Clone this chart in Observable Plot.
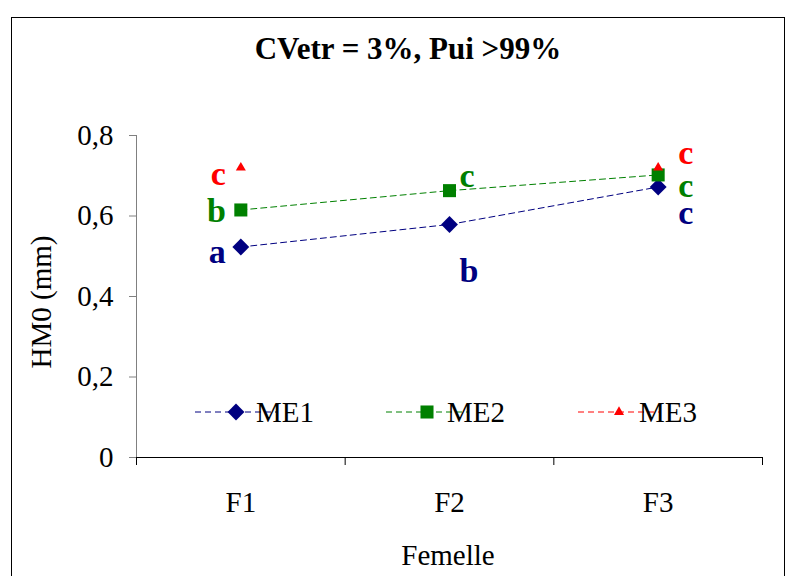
<!DOCTYPE html>
<html><head><meta charset="utf-8">
<script src="https://cdn.jsdelivr.net/npm/d3@7"></script>
<script src="https://cdn.jsdelivr.net/npm/@observablehq/plot@0.6"></script>
<style>
body{margin:0;background:#fff;}
#wrap{position:relative;width:791px;height:576px;overflow:hidden;font-family:"Liberation Serif","Tinos","Times New Roman","DejaVu Serif",serif;color:#000;}
#frame{position:absolute;left:11px;top:17px;width:774px;height:620px;border:1.5px solid #000;box-sizing:border-box;}
#title{position:absolute;left:0;width:816px;top:34px;text-align:center;font-weight:bold;font-size:31px;line-height:30px;white-space:nowrap;}
#xlab{position:absolute;left:248px;width:400px;top:540px;text-align:center;font-size:29px;line-height:30px;}
#ylab{position:absolute;left:-59px;width:200px;top:287px;height:30px;text-align:center;font-size:29px;line-height:30px;transform:rotate(-90deg);white-space:nowrap;}
#chart{position:absolute;left:0;top:0;}
#chart svg text{font-family:"Liberation Serif","Tinos","Times New Roman","DejaVu Serif",serif;}
</style></head>
<body>
<div id="wrap">
  <div id="frame"></div>
  <div id="chart"></div>
  <div id="title">CVetr = 3%, Pui &gt;99%</div>
  <div id="xlab">Femelle</div>
  <div id="ylab">HM0 (mm)</div>
</div>
<script>
const categories = ["F1", "F2", "F3"];
const seriesNames = ["ME1", "ME2", "ME3"];
const seriesColors = ["#000080", "#008000", "#FF0000"];
const me1 = [0.523, 0.579, 0.672];
const me2 = [0.615, 0.663, 0.702];
const me3 = [0.720, null, 0.720];
const yTicks = [0, 0.2, 0.4, 0.6, 0.8];
const letterCats = ["F1", "F1", "F1", "F2", "F2", "F3", "F3", "F3"];
const letterSeries = ["ME3", "ME2", "ME1", "ME2", "ME1", "ME3", "ME2", "ME1"];
const letterTexts = ["c", "b", "a", "c", "b", "c", "c", "c"];
const letterY = [0.676, 0.584, 0.482, 0.673, 0.435, 0.730, 0.646, 0.581];

const seriesValues = [me1, me2, me3];
const rows = [];
seriesNames.forEach((s, k) => categories.forEach((c, i) => rows.push({series: s, cat: c, i, value: seriesValues[k][i]})));
const letters = letterTexts.map((t, j) => ({text: t, cat: letterCats[j], series: letterSeries[j], y: letterY[j]}));
const xc = d => categories.indexOf(d.cat) + 0.5;

const FONT = "'Liberation Serif', Tinos, 'Times New Roman', 'DejaVu Serif', serif";
const symbols = {ME1: ["diamond2", 7.6], ME2: ["square2", 8.3], ME3: ["triangle2", 4.8]};
const letterStyle = {F1: ["end", -15], F2: ["start", 10], F3: ["start", 20]};

const plot = Plot.plot({
  width: 791, height: 576,
  marginLeft: 136, marginRight: 29, marginTop: 135, marginBottom: 119,
  style: {fontFamily: FONT, color: "#000", background: "transparent"},
  x: {domain: [0, 3]},
  y: {domain: [0, 0.8]},
  color: {domain: seriesNames, range: seriesColors},
  marks: [
    Plot.ruleX([0], {stroke: "#808080", strokeWidth: 1}),
    Plot.axisY(yTicks, {tickSize: 7, tickPadding: 16, stroke: "#808080", fill: "#000", fontSize: 29, label: null,
      tickFormat: d => d === 0 ? "0" : d.toFixed(1).replace(".", ",")}),
    Plot.axisX(d3.range(categories.length + 1), {tickSize: 8, stroke: "#000", tickFormat: () => "", label: null}),
    Plot.axisX(categories.map((c, i) => i + 0.5), {tickSize: 0, tickPadding: 34, fill: "#000", fontSize: 29, label: null,
      tickFormat: d => categories[Math.floor(d)]}),
    Plot.ruleY([0], {stroke: "#000", strokeWidth: 1}),
    Plot.line(rows, {x: d => d.i + 0.5, y: "value", z: "series", stroke: "series", strokeWidth: 1, strokeDasharray: "6,4"}),
    ...seriesNames.map(s => Plot.dot(rows.filter(d => d.series === s), {
      x: d => d.i + 0.5, y: "value", fill: "series", symbol: symbols[s][0], r: symbols[s][1], stroke: "none"})),
    ...categories.map(c => Plot.text(letters.filter(d => d.cat === c), {
      x: xc, y: "y", text: "text", fill: "series", fontSize: 34, fontWeight: "bold",
      textAnchor: letterStyle[c][0], dx: letterStyle[c][1], lineAnchor: "bottom"}))
  ]
});
document.getElementById("chart").appendChild(plot);

// legend inside the plot area
const svg = d3.select(plot);
const lg = svg.append("g").attr("font-family", FONT);
const legendY = 412, legendX = [236, 427, 619];
seriesNames.forEach((s, k) => {
  const cx = legendX[k], col = seriesColors[k];
  const g = lg.append("g");
  g.append("line").attr("x1", cx - 41).attr("x2", cx + 41).attr("y1", legendY).attr("y2", legendY)
    .attr("stroke", col).attr("stroke-width", 1).attr("stroke-dasharray", "6,4");
  const sym = {diamond2: d3.symbolDiamond2, square2: d3.symbolSquare2, triangle2: d3.symbolTriangle2}[symbols[s][0]];
  const r = symbols[s][1];
  g.append("path").attr("transform", `translate(${cx},${legendY})`)
    .attr("d", d3.symbol(sym, r * r * Math.PI)()).attr("fill", col);
  g.append("text").attr("x", cx + 49).attr("y", legendY + 10).attr("font-size", 29).attr("fill", "#000").text(s);
});
</script>
</body></html>
